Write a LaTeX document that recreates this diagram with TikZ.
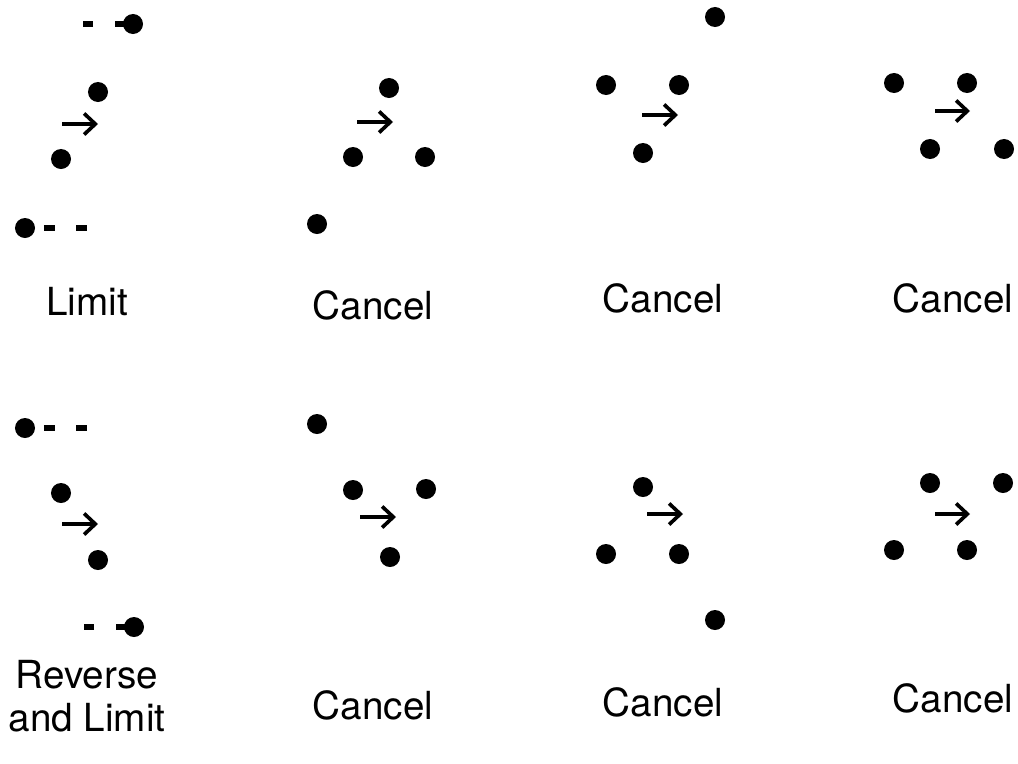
\documentclass[tikz,border=0pt]{standalone}
\usepackage{fontspec}
\setmainfont{TeX Gyre Heros}
\usetikzlibrary{arrows.meta}
\tikzset{
    dot/.style={
        circle,
        fill=black,
        inner sep=0pt,
        minimum size=5mm
    },
    move/.style={-{Straight Barb[length=8pt, width=15pt, line width=2.6pt]}, line width=2.6pt},
    trailnear/.style={line width=3.6pt, dash pattern=on 12.8pt off 15.6pt on 7.1pt off 60pt},
    trailfar/.style={line width=3.6pt, dash pattern=on 0pt off 13.5pt on 7.5pt off 15.6pt on 7.5pt off 60pt},
    caption/.style={
        align=center,
        inner sep=0pt,
        font=\fontsize{27.5}{30.5}\selectfont
    }
}

\begin{document}
\begin{tikzpicture}[x=0.025cm, y=-0.025cm]
        \useasboundingbox (0,0) rectangle (1018,763);

        % top row
        \node[dot] (la) at (133,24) {};
        \node[dot] (lb) at (98,92) {};
        \node[dot] (lc) at (61,159) {};
        \node[dot] (ld) at (25,228) {};
        \draw[trailnear] (la.center) -- ++(-60,0);
        \draw[trailfar] (ld.center) -- ++(70,0);
        \coordinate (lm) at (62,124);
        \coordinate (lme) at (98,124);
        \draw[move] (lm) -- (lme);
        \node[caption] (lt) at (87,302) {Limit};

        \node[dot] (ca) at (389,88) {};
        \node[dot] (cb) at (353,157) {};
        \node[dot] (cc) at (425,157) {};
        \node[dot] (cd) at (317,224) {};
        \coordinate (cm) at (357,122);
        \coordinate (cme) at (393,122);
        \draw[move] (cm) -- (cme);
        \node[caption] (ct) at (373,305) {Cancel};

        \node[dot] (da) at (715,17) {};
        \node[dot] (db) at (606,85) {};
        \node[dot] (dc) at (679,85) {};
        \node[dot] (dd) at (643,153) {};
        \coordinate (dm) at (642,115);
        \coordinate (dme) at (678,115);
        \draw[move] (dm) -- (dme);
        \node[caption] (dt) at (663,298) {Cancel};

        \node[dot] (ea) at (894,83) {};
        \node[dot] (eb) at (967,83) {};
        \node[dot] (ec) at (930,149) {};
        \node[dot] (ed) at (1004,149) {};
        \coordinate (em) at (935,111);
        \coordinate (eme) at (970,111);
        \draw[move] (em) -- (eme);
        \node[caption] (et) at (953,298) {Cancel};

        % bottom row
        \node[dot] (ra) at (25,428) {};
        \node[dot] (rb) at (61,493) {};
        \node[dot] (rc) at (98,560) {};
        \node[dot] (rd) at (134,627) {};
        \draw[trailfar] (ra.center) -- ++(70,0);
        \draw[trailnear] (rd.center) -- ++(-60,0);
        \coordinate (rm) at (62,524);
        \coordinate (rme) at (98,524);
        \draw[move] (rm) -- (rme);
        \node[caption] (rt) at (87,696) {Reverse\\and Limit};

        \node[dot] (fa) at (317,424) {};
        \node[dot] (fb) at (353,490) {};
        \node[dot] (fc) at (426,489) {};
        \node[dot] (fd) at (390,557) {};
        \coordinate (fm) at (360,517);
        \coordinate (fme) at (396,517);
        \draw[move] (fm) -- (fme);
        \node[caption] (ft) at (373,705) {Cancel};

        \node[dot] (ga) at (643,487) {};
        \node[dot] (gb) at (606,554) {};
        \node[dot] (gc) at (679,554) {};
        \node[dot] (gd) at (715,620) {};
        \coordinate (gm) at (647,514);
        \coordinate (gme) at (683,514);
        \draw[move] (gm) -- (gme);
        \node[caption] (gt) at (663,702) {Cancel};

        \node[dot] (ha) at (930,483) {};
        \node[dot] (hb) at (1003,483) {};
        \node[dot] (hc) at (894,550) {};
        \node[dot] (hd) at (967,550) {};
        \coordinate (hm) at (935,514);
        \coordinate (hme) at (970,514);
        \draw[move] (hm) -- (hme);
        \node[caption] (ht) at (953,698) {Cancel};
    \end{tikzpicture}
\end{document}
